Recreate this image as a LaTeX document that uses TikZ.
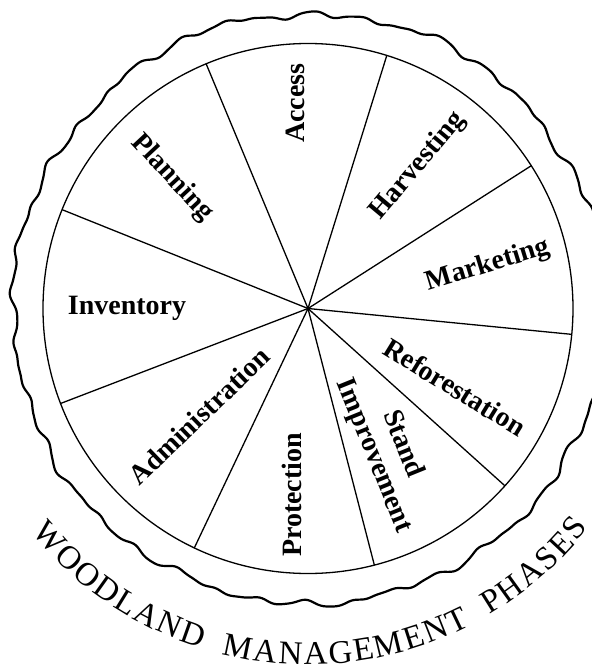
\documentclass[tikz,border=0pt]{standalone}
\usepackage{fontspec}
\setmainfont{Liberation Serif}
\usetikzlibrary{decorations.text}
\tikzset{phase/.style={font=\fontsize{14}{15.5}\selectfont\bfseries, align=center, inner sep=0pt}}

\begin{document}
\begin{tikzpicture}[x=0.5pt, y=0.5pt, line width=0.65pt]
  \useasboundingbox (-308,-361.5) rectangle (284,308.5);
  \begin{scope}
   \clip (-308,-361.5) rectangle (284,308.5);
   \draw[line width=1.1pt, line join=round] plot[domain=0:359.5, samples=720, variable=\t]
     ({(295+4*max(cos(\t),0)+1.8*sin(41*\t+30)+1.5*sin(29*\t)+1.5*sin(17*\t+70)+1.2*sin(7*\t+20)+sin(37*\t)*sin(43*\t+20))*cos(\t)},
      {(295+4*max(cos(\t),0)+1.8*sin(41*\t+30)+1.5*sin(29*\t)+1.5*sin(17*\t+70)+1.2*sin(7*\t+20)+sin(37*\t)*sin(43*\t+20))*sin(\t)}) -- cycle;
  \end{scope}
  \begin{scope}
    \coordinate (c) at (0,0);
    \coordinate (s1) at (-5.6:265);
    \coordinate (s2) at (32.6:265);
    \coordinate (s3) at (72.7:265);
    \coordinate (s4) at (112.6:265);
    \coordinate (s5) at (158.1:265);
    \coordinate (s6) at (201:265);
    \coordinate (s7) at (244.6:265);
    \coordinate (s8) at (284.5:265);
    \coordinate (s9) at (318:265);
    \draw (c) circle[radius=265];
    \draw (c) -- (s1);
    \draw (c) -- (s2);
    \draw (c) -- (s3);
    \draw (c) -- (s4);
    \draw (c) -- (s5);
    \draw (c) -- (s6);
    \draw (c) -- (s7);
    \draw (c) -- (s8);
    \draw (c) -- (s9);
    \node[phase, rotate=17]  (marketing) at (180,43)    {Marketing};
    \node[phase, rotate=50]  (harvest)   at (110,142.5) {Harvesting};
    \node[phase, rotate=90]  (access)    at (-13,205.5) {Access};
    \node[phase, rotate=-47] (planning)  at (-136,130.5) {Planning};
    \node[phase]             (inventory) at (-181,0)    {Inventory};
    \node[phase, rotate=44]  (admin)     at (-109,-107.5) {Administration};
    \node[phase, rotate=90]  (protect)   at (-16,-186.5) {Protection};
    \node[phase, rotate=-68] (stand)     at (80,-141.5) {Stand\\Improvement};
    \node[phase, rotate=-31.5] (refor)   at (147,-78.5) {Reforestation};
  \end{scope}
  \path[decorate, decoration={text along path, text align={fit to path},
    text={|\fontsize{16.5}{18}\selectfont|WOODLAND{\hspace{9pt}}MANAGEMENT{\hspace{9pt}}PHASES}}]
    (-141:356) arc[start angle=-141, end angle=-38, radius=356];
\end{tikzpicture}
\end{document}
